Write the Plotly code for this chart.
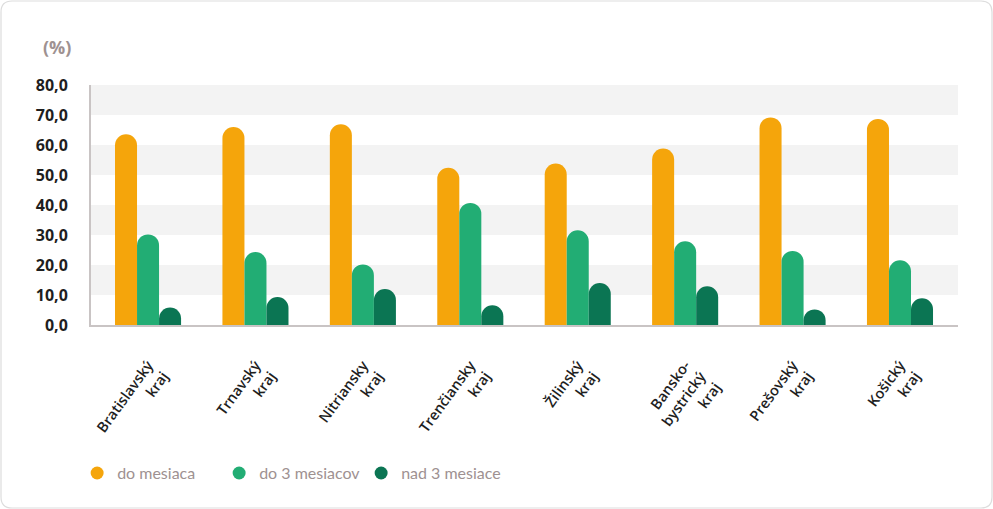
import plotly.graph_objects as go

regions = ["Bratislavský<br>kraj", "Trnavský<br>kraj", "Nitriansky<br>kraj",
           "Trenčiansky<br>kraj", "Žilinský<br>kraj", "Bansko-<br>bystrický<br>kraj",
           "Prešovský<br>kraj", "Košický<br>kraj"]
do_mesiaca = [63.6, 66.0, 66.9, 52.4, 53.8, 58.8, 69.2, 68.7]
do_3_mesiacov = [30.2, 24.3, 20.2, 40.7, 31.6, 27.9, 24.7, 21.6]
nad_3_mesiace = [5.8, 9.3, 12.0, 6.6, 14.0, 12.9, 5.2, 8.9]
y_ticks = [0, 10, 20, 30, 40, 50, 60, 70, 80]

series = [("do mesiaca", do_mesiaca, "#F5A50B"),
          ("do 3 mesiacov", do_3_mesiacov, "#22AD74"),
          ("nad 3 mesiace", nad_3_mesiace, "#0B7553")]

W, H = 993, 509
ml, mr, mt, mb = 91, 35, 85, 184
pw, ph = W - ml - mr, H - mt - mb

fig = go.Figure()
for name, vals, col in series:
    fig.add_trace(go.Bar(x=regions, y=vals, name=name, marker_color=col,
                         marker_cornerradius="50%", marker_line_width=0,
                         showlegend=False))
for name, vals, col in series:
    fig.add_trace(go.Scatter(x=[None], y=[None], mode="markers", name=name,
                             marker=dict(color=col, size=13, symbol="circle")))

shapes = []
# grey bands behind bars
for lo in range(10, 80, 20):
    shapes.append(dict(type="rect", xref="paper", yref="y", x0=0, x1=1,
                       y0=lo, y1=lo + 10, fillcolor="#F3F3F3", line_width=0,
                       layer="below"))

# rounded outer frame
def px(x):
    return (x - ml) / pw

def py(y):
    return (H - mb - y) / ph

r = 11
x0, x1, y0, y1 = 1, W - 1, 1, H - 1
path = (f"M {px(x0 + r)},{py(y0)} L {px(x1 - r)},{py(y0)} "
        f"Q {px(x1)},{py(y0)} {px(x1)},{py(y0 + r)} L {px(x1)},{py(y1 - r)} "
        f"Q {px(x1)},{py(y1)} {px(x1 - r)},{py(y1)} L {px(x0 + r)},{py(y1)} "
        f"Q {px(x0)},{py(y1)} {px(x0)},{py(y1 - r)} L {px(x0)},{py(y0 + r)} "
        f"Q {px(x0)},{py(y0)} {px(x0 + r)},{py(y0)} Z")
shapes.append(dict(type="path", xref="paper", yref="paper", path=path,
                   line=dict(color="#DDDDDD", width=1.2), layer="below"))

fig.update_layout(
    width=W, height=H,
    margin=dict(l=ml, r=mr, t=mt, b=mb),
    paper_bgcolor="white", plot_bgcolor="white",
    barmode="group", bargap=0.385, bargroupgap=0,
    separators=",.",
    shapes=shapes,
    font=dict(family="Open Sans", color="#222222"),
    xaxis=dict(range=[-0.531, 7.54], showline=True, linecolor="#C9C4C4",
               linewidth=2, ticks="", tickangle=-54,
               tickfont=dict(size=14.5, weight=600, color="#1E1E1E"),
               ticklabelstandoff=24, showgrid=False),
    yaxis=dict(range=[0, 80], tickvals=y_ticks, tickformat=".1f",
               showline=True, linecolor="#C9C4C4", linewidth=2, showgrid=False,
               zeroline=False, ticks="", ticklabelstandoff=18,
               tickfont=dict(size=16, weight=700, color="#1E1E1E")),
    legend=dict(orientation="h", x=-0.016, xanchor="left", y=-0.617,
                yanchor="middle", font=dict(family="Lato", size=16, color="#9E9191"),
                itemwidth=30, entrywidth=97, tracegroupgap=0),
    annotations=[dict(text="(%)", xref="paper", yref="paper", x=px(57), y=py(47),
                      xanchor="center", yanchor="middle", showarrow=False,
                      font=dict(size=18, weight=700, color="#9E9191"))],
)

fig.write_html("out.html", config={"displayModeBar": False},
               post_script="document.body.style.margin='0';")
